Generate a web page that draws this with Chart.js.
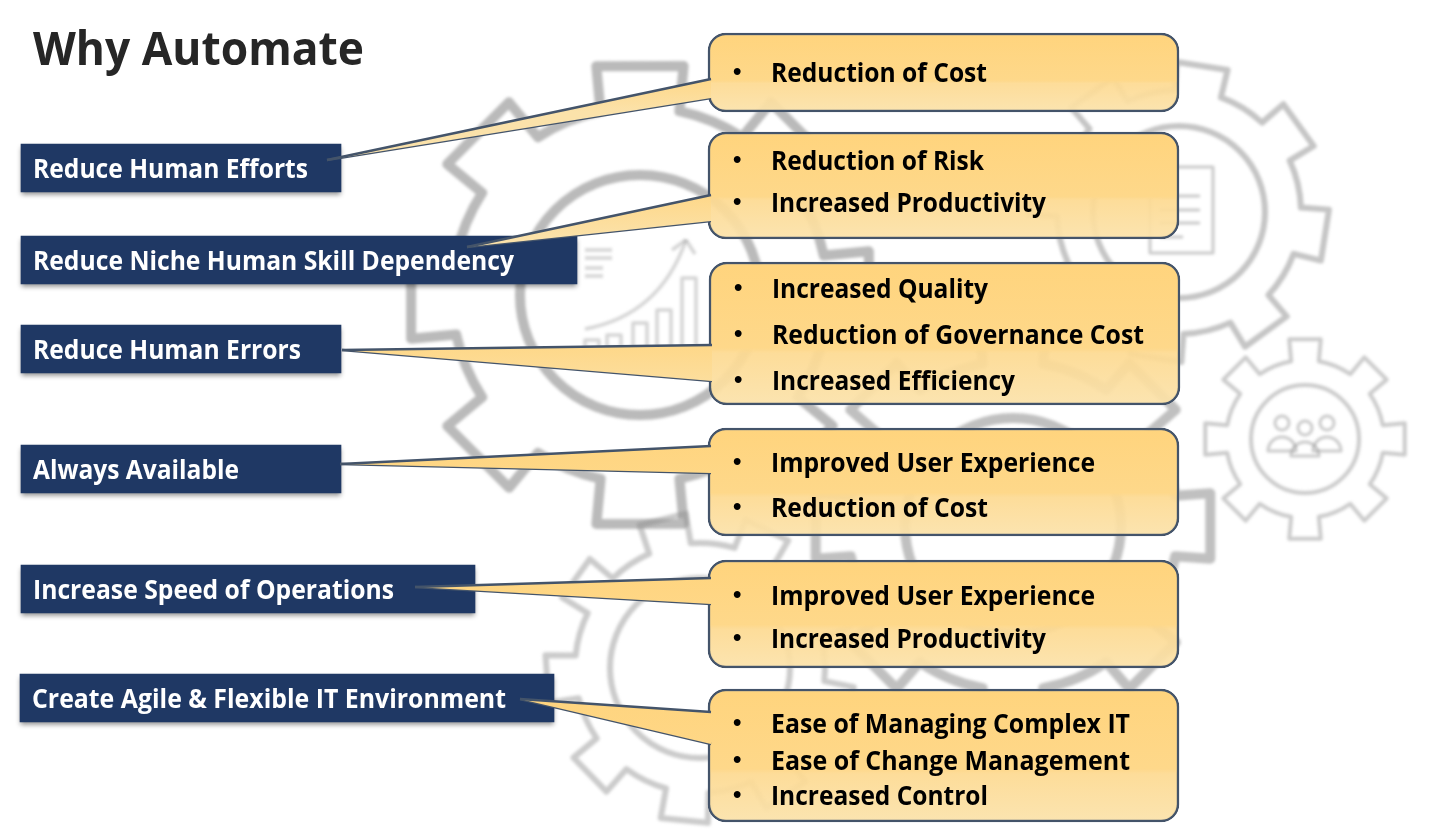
<!DOCTYPE html>
<html>
<head>
<meta charset="utf-8">
<title>Why Automate</title>
<script src="https://cdn.jsdelivr.net/npm/chart.js@4"></script>
<style>
  html, body { margin: 0; padding: 0; background: #fff; overflow: hidden; }
  canvas { display: block; }
</style>
</head>
<body>
<canvas id="slide" width="1437" height="832"></canvas>
<script>
const titleText = "Why Automate";

const reasons = [
  "Reduce Human Efforts",
  "Reduce Niche Human Skill Dependency",
  "Reduce Human Errors",
  "Always Available",
  "Increase Speed of Operations",
  "Create Agile & Flexible IT Environment"
];

const benefits = [
  ["Reduction of Cost"],
  ["Reduction of Risk", "Increased Productivity"],
  ["Increased Quality", "Reduction of Governance Cost", "Increased Efficiency"],
  ["Improved User Experience", "Reduction of Cost"],
  ["Improved User Experience", "Increased Productivity"],
  ["Ease of Managing Complex IT", "Ease of Change Management", "Increased Control"]
];

// Diagram geometry, in slide units (the axes run 0-1437 and 832-0)
const reasonLeft = [21, 21, 21, 21, 21, 20];
const reasonRight = [341, 577, 341, 341, 475, 554];
const reasonRow = [168, 260, 349, 469, 589, 698];
const reasonTextLeft = [33, 33, 33, 33, 33, 32];
const reasonTextWidth = [275, 481, 268, 206, 361, 474];

const benefitLeft = [708, 708, 709, 708, 708, 708];
const benefitRight = [1179, 1179, 1180, 1179, 1179, 1179];
const benefitTop = [33, 132, 262, 428, 560, 689];
const benefitBottom = [112, 239, 405, 536, 668, 822];
const benefitTextRow = [[72], [160, 202], [288, 334, 380], [462, 507], [595, 638], [723, 760, 795]];
const benefitTextWidth = [[216], [213, 275], [216, 372, 243], [324, 217], [324, 275], [359, 359, 217]];

const tipX = [327, 467, 342, 340, 415, 520];
const tipY = [160, 247, 350, 464, 587, 699];
const baseTop = [79, 195, 345, 446, 578, 712];
const baseBottom = [98, 221, 381, 473, 604, 744];

// Background gears: cx, cy, outer r, root r, teeth, rotation, tooth half-width (share of pitch), ring r, stroke, grey
const gears = [
  [640, 295, 233, 188, 8, -1.571, 0.24, 120, 10, 0.6],
  [1179, 212, 150, 122, 8, 0.157, 0.22, 86, 6, 0.5],
  [1305, 439, 101, 79, 8, 0, 0.2, 54, 4, 0.45],
  [1013, 526, 200, 165, 8, 0, 0.21, 108, 10, 0.55],
  [700, 668, 155, 125, 9, 3.07, 0.22, 90, 6, 0.45]
];

function gearPath(ctx, g, sx, sy) {
  const [cx, cy, ro, ri, n, rot, half] = g;
  const step = Math.PI * 2 / n;
  const px = (r, t) => sx(cx + r * Math.cos(t));
  const py = (r, t) => sy(cy + r * Math.sin(t));
  ctx.beginPath();
  for (let i = 0; i < n; i++) {
    const a = rot + i * step;
    const rootA = half * step * 1.12;
    const tipA = half * step;
    ctx.arc(px(0, a), py(0, a), ri, a - step + rootA, a - rootA);
    ctx.lineTo(px(ro, a - tipA), py(ro, a - tipA));
    ctx.lineTo(px(ro, a + tipA), py(ro, a + tipA));
    ctx.lineTo(px(ri, a + rootA), py(ri, a + rootA));
  }
  ctx.closePath();
}

const gearPlugin = {
  id: "gears",
  beforeDatasetsDraw(chart) {
    const ctx = chart.ctx;
    const sx = v => chart.scales.x.getPixelForValue(v);
    const sy = v => chart.scales.y.getPixelForValue(v);
    const seg = (x0, y0, x1, y1) => {
      ctx.beginPath();
      ctx.moveTo(sx(x0), sy(y0));
      ctx.lineTo(sx(x1), sy(y1));
      ctx.stroke();
    };
    ctx.save();
    ctx.filter = "blur(1.8px)";
    ctx.lineJoin = "round";
    gears.forEach(g => {
      ctx.strokeStyle = "rgba(140,140,140," + g[9] + ")";
      ctx.lineWidth = g[8];
      gearPath(ctx, g, sx, sy);
      ctx.stroke();
      ctx.beginPath();
      ctx.arc(sx(g[0]), sy(g[1]), g[7], 0, Math.PI * 2);
      ctx.stroke();
    });

    // little growth chart inside the big gear
    ctx.lineWidth = 3.5;
    ctx.strokeStyle = "rgba(160,160,160,0.45)";
    [[585, 340], [607, 335], [633, 323], [657, 310], [682, 278]].forEach(b => {
      ctx.strokeRect(sx(b[0]), sy(b[1]), 14, sy(348) - sy(b[1]));
    });
    ctx.beginPath();
    ctx.moveTo(sx(585), sy(329));
    ctx.quadraticCurveTo(sx(660), sy(315), sx(686), sy(240));
    ctx.stroke();
    seg(672, 250, 686, 240);
    seg(686, 240, 695, 254);
    seg(585, 250, 612, 250);
    seg(585, 258, 612, 258);
    seg(585, 268, 603, 268);
    seg(585, 276, 603, 276);

    // document icon in the top right gear
    ctx.strokeStyle = "rgba(150,150,150,0.5)";
    ctx.lineWidth = 3;
    ctx.strokeRect(sx(1150), sy(167), 63, 86);
    seg(1160, 196, 1200, 196);
    seg(1160, 210, 1200, 210);
    seg(1160, 223, 1200, 223);
    seg(1160, 237, 1183, 237);

    // people icon in the small gear
    [[1282, 423], [1327, 423], [1305, 428]].forEach(p => {
      ctx.beginPath();
      ctx.arc(sx(p[0]), sy(p[1]), 7, 0, Math.PI * 2);
      ctx.stroke();
      ctx.beginPath();
      ctx.arc(sx(p[0]), sy(p[1] + 28), 14, Math.PI, 0);
      ctx.closePath();
      ctx.stroke();
    });
    ctx.restore();
  }
};

const shadowPlugin = {
  id: "reasonShadow",
  beforeDatasetDraw(chart, args) {
    if (chart.data.datasets[args.index].id !== "reasons") return;
    const ctx = chart.ctx;
    ctx.save();
    ctx.shadowColor = "rgba(0,0,0,0.45)";
    ctx.shadowBlur = 5;
    ctx.shadowOffsetY = 3;
  },
  afterDatasetDraw(chart, args) {
    if (chart.data.datasets[args.index].id === "reasons") chart.ctx.restore();
  }
};

const textPlugin = {
  id: "slideText",
  afterDatasetsDraw(chart) {
    const ctx = chart.ctx;
    const sx = v => chart.scales.x.getPixelForValue(v);
    const sy = v => chart.scales.y.getPixelForValue(v);
    ctx.save();
    ctx.textBaseline = "middle";
    ctx.textAlign = "left";

    ctx.fillStyle = "#262626";
    ctx.font = "bold 46px 'Open Sans'";
    ctx.fillText(titleText, sx(33), sy(52), 331);

    ctx.fillStyle = "#ffffff";
    ctx.font = "bold 27px 'Open Sans'";
    reasons.forEach((r, i) => {
      ctx.fillText(r, sx(reasonTextLeft[i]), sy(reasonRow[i] + 2), reasonTextWidth[i]);
    });

    ctx.fillStyle = "#000000";
    benefits.forEach((list, i) => {
      list.forEach((b, j) => {
        ctx.font = "bold 27px 'Open Sans'";
        ctx.fillText(b, sx(benefitLeft[i] + 63), sy(benefitTextRow[i][j] + 2), benefitTextWidth[i][j]);
        ctx.font = "bold 24px 'Liberation Sans'";
        ctx.fillText("•", sx(benefitLeft[i] + 25), sy(benefitTextRow[i][j]));
      });
    });
    ctx.restore();
  }
};

function boxGradient(chart, i) {
  const y = chart.scales.y;
  const y0 = y.getPixelForValue(benefitTop[i]);
  const y1 = y.getPixelForValue(benefitBottom[i]);
  if (!isFinite(y0) || !isFinite(y1)) return "#FDD98C"; // scales not laid out yet
  const g = chart.ctx.createLinearGradient(0, y0, 0, y1);
  g.addColorStop(0, "rgba(255,212,125,1)");
  g.addColorStop(0.6, "rgba(254,216,138,1)");
  g.addColorStop(0.64, "rgba(253,218,146,0.93)");
  g.addColorStop(1, "rgba(251,226,170,0.93)");
  return g;
}

function wedgeGradient(chart, i) {
  const y = chart.scales.y;
  const y0 = y.getPixelForValue(benefitTop[i]);
  const y1 = y.getPixelForValue(benefitBottom[i]);
  if (!isFinite(y0) || !isFinite(y1)) return "#FDD98C";
  const g = chart.ctx.createLinearGradient(0, y0, 0, y1);
  g.addColorStop(0, "#FFD47D");
  g.addColorStop(0.6, "#FED88A");
  g.addColorStop(1, "#FBE2AA");
  return g;
}

const datasets = [];

datasets.push({
  id: "reasons",
  type: "bar",
  indexAxis: "y",
  grouped: false,
  order: 5,
  barThickness: 48,
  backgroundColor: "#1F3864",
  borderWidth: 0,
  data: reasons.map((r, i) => ({ x: [reasonLeft[i], reasonRight[i]], y: reasonRow[i] }))
});

benefits.forEach((list, i) => {
  datasets.push({
    type: "bar",
    indexAxis: "y",
    grouped: false,
    order: 4,
    barThickness: benefitBottom[i] - benefitTop[i],
    backgroundColor: ctx => boxGradient(ctx.chart, i),
    borderColor: "#44546A",
    borderWidth: 2.5,
    borderSkipped: false,
    borderRadius: 18,
    data: [{ x: [benefitLeft[i], benefitRight[i]], y: (benefitTop[i] + benefitBottom[i]) / 2 }]
  });
});

// Each pointer is two edges, filled between them, drawn over the box border
tipX.forEach((tx, i) => {
  const baseX = benefitLeft[i] + 3;
  datasets.push({
    type: "scatter",
    showLine: true,
    order: 2,
    pointRadius: 0,
    borderColor: "#44546A",
    borderWidth: 2.5,
    backgroundColor: ctx => wedgeGradient(ctx.chart, i),
    fill: "+1",
    tension: 0,
    data: [{ x: tx, y: tipY[i] }, { x: baseX, y: baseTop[i] }]
  });
  datasets.push({
    type: "scatter",
    showLine: true,
    order: 2,
    pointRadius: 0,
    borderColor: "#44546A",
    borderWidth: 2.5,
    fill: false,
    tension: 0,
    data: [{ x: tx, y: tipY[i] }, { x: baseX, y: baseBottom[i] }]
  });
});

new Chart(document.getElementById("slide"), {
  type: "scatter",
  data: { datasets },
  plugins: [gearPlugin, shadowPlugin, textPlugin],
  options: {
    responsive: false,
    animation: false,
    layout: { padding: 0, autoPadding: false },
    plugins: {
      legend: { display: false },
      tooltip: { enabled: false },
      title: { display: false }
    },
    scales: {
      x: { type: "linear", display: false, min: 0, max: 1437, offset: false },
      y: { type: "linear", display: false, min: 0, max: 832, reverse: true, offset: false }
    }
  }
});
</script>
</body>
</html>
